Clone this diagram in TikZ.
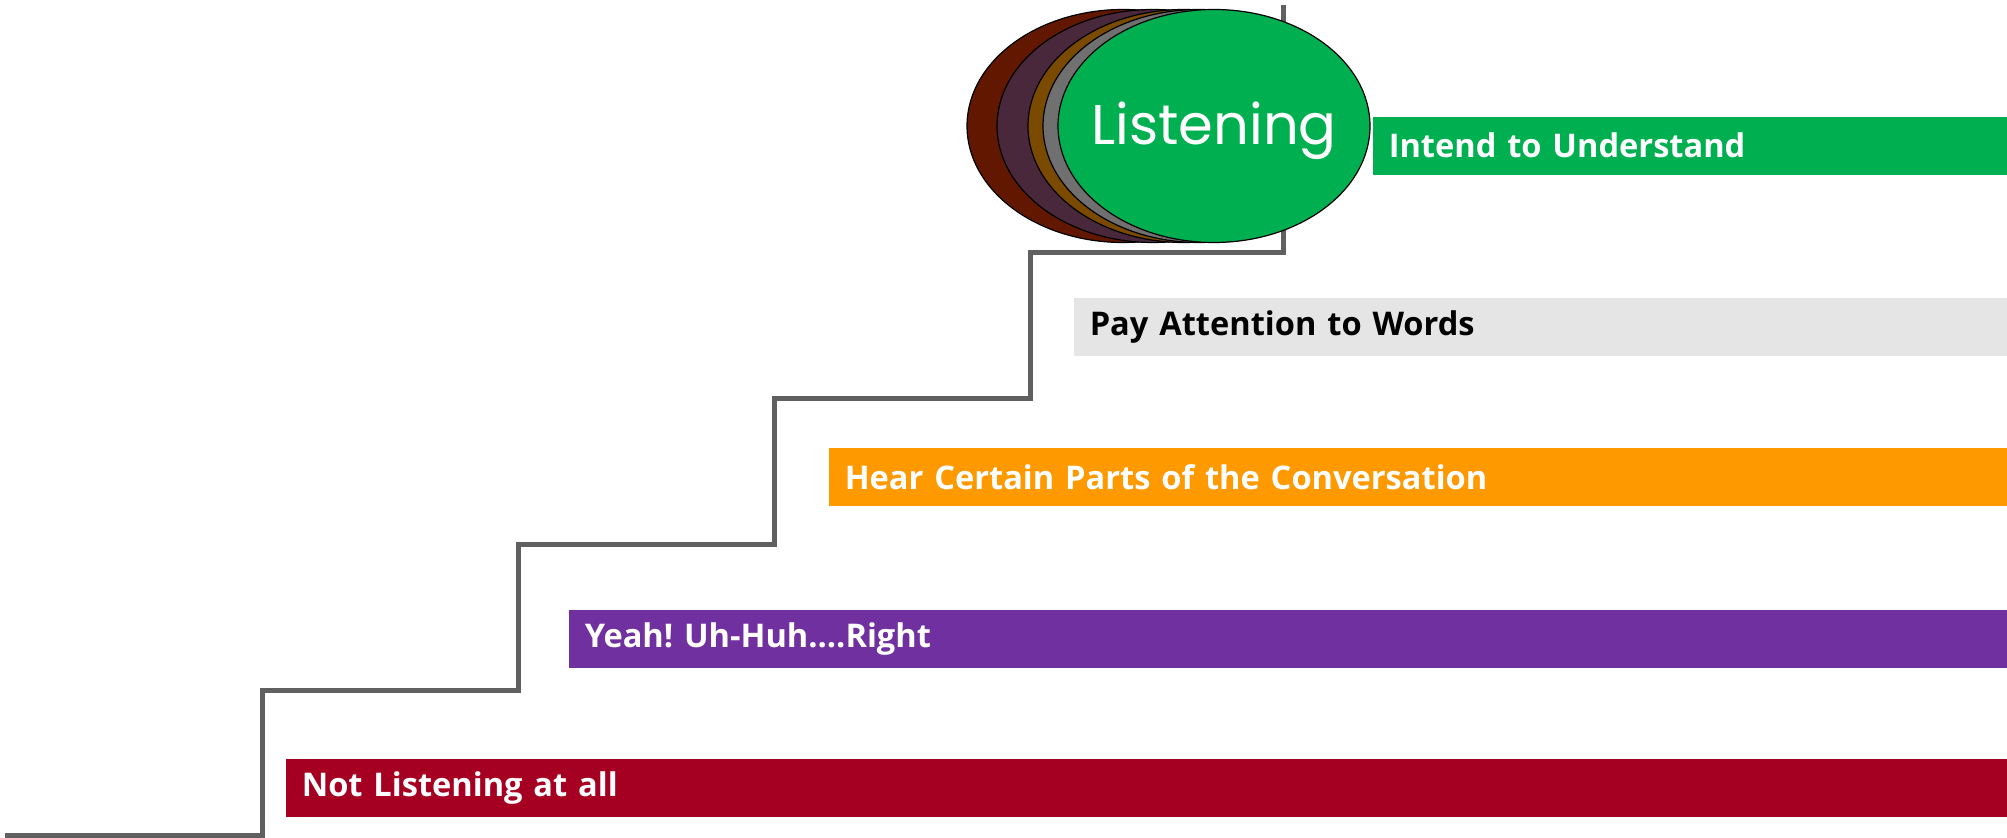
\documentclass[tikz,border=0pt]{standalone}
\usepackage{fontspec}
\setmainfont{Open Sans}
\newfontfamily\titlefont{Poppins}
\usetikzlibrary{shapes.geometric}
\frenchspacing

\definecolor{stairgrey}{RGB}{96,96,96}
\definecolor{barred}{RGB}{165,0,33}
\definecolor{barpurple}{RGB}{112,48,160}
\definecolor{barorange}{RGB}{255,153,0}
\definecolor{bargrey}{RGB}{229,229,229}
\definecolor{bargreen}{RGB}{0,176,80}
\definecolor{ovalrust}{RGB}{98,24,0}
\definecolor{ovalplum}{RGB}{72,40,58}
\definecolor{ovalbrown}{RGB}{122,74,0}
\definecolor{ovalgrey}{RGB}{112,112,112}

\tikzset{every picture/.style={line width=0.75pt}}
\tikzset{
  bar/.style={rectangle, anchor=north west, minimum height=29pt, inner xsep=8pt, inner ysep=0pt, align=left, text=white, font=\bfseries\fontsize{16.3}{18}\selectfont},
  oval/.style={ellipse, draw=black, line width=0.6pt, minimum width=156pt, minimum height=116.5pt, inner sep=0pt}
}

\begin{document}
\begin{tikzpicture}[x=0.5pt,y=0.5pt,yscale=-1,xscale=1]
		\useasboundingbox (0,0) rectangle (2007,838);

		%Straight Lines: staircase
		\draw [color=stairgrey, line width=2.5pt] (5,835) -- (262,835) -- (262,691) -- (518,691) -- (518,545) -- (774,545) -- (774,399) -- (1030,399) -- (1030,253) -- (1283,253) -- (1283,5) ;

		%Shape: Ellipses
		\node [oval, fill=ovalrust] (rust) at (1123,126) {};
		\node [oval, fill=ovalplum] (plum) at (1153,126) {};
		\node [oval, fill=ovalbrown] (brown) at (1184,126) {};
		\node [oval, fill=ovalgrey] (grey) at (1199,126) {};
		\node [oval, fill=bargreen] (green) at (1214,126) {};

		% Text Node
		\node [text=white, font=\titlefont\fontsize{28}{30}\selectfont, inner sep=0pt] (listening) at (1214,131) {Listening};

		%Shape: Bars
		\node [bar, fill=barred, text width=845pt] (notlistening) at (285,758) {Not Listening at all};
		\node [bar, fill=barpurple, text width=703.5pt] (yeah) at (568,609) {Yeah! Uh-Huh....Right};
		\node [bar, fill=barorange, text width=573.5pt] (hear) at (828,447) {Hear Certain Parts of the Conversation};
		\node [bar, fill=bargrey, text=black, text width=451pt] (words) at (1073,297) {Pay Attention to Words};
		\node [bar, fill=bargreen, text width=301.5pt] (intend) at (1372,116) {Intend to Understand};

	\end{tikzpicture}
\end{document}
